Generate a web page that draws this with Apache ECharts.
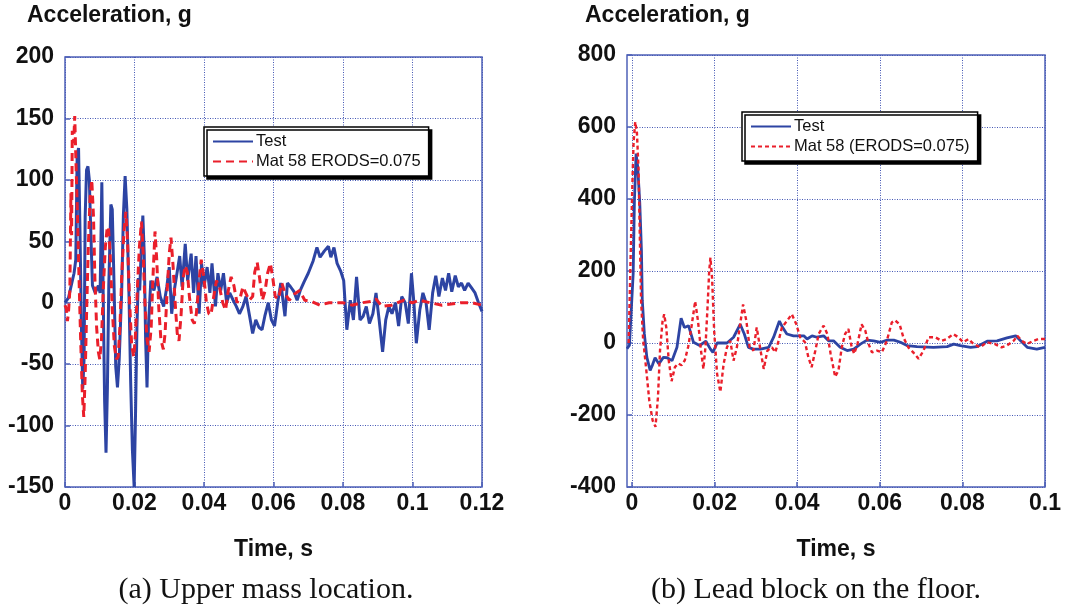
<!DOCTYPE html>
<html>
<head>
<meta charset="utf-8">
<script src="https://cdn.jsdelivr.net/npm/echarts/dist/echarts.min.js"></script>
<style>
html,body{margin:0;padding:0;background:#fff;}
#chart{width:1080px;height:606px;}
</style>
</head>
<body>
<div id="chart"></div>
<script>
// ---------- DATA ----------
// (a) Upper mass location
const aXTicks = [0, 0.02, 0.04, 0.06, 0.08, 0.1, 0.12];
const aYTicks = [-150, -100, -50, 0, 50, 100, 150, 200];
const aTestT = [0,0.0010,0.0018,0.0026,0.0031,0.0035,0.0039,0.0043,0.0047,0.0051,0.0055,0.0058,0.0062,0.0066,0.0070,0.0074,0.0079,0.0087,0.0096,0.0101,0.0106,0.0110,0.0114,0.0118,0.0122,0.0126,0.0132,0.0136,0.0141,0.0146,0.0151,0.0156,0.0163,0.0168,0.0173,0.0178,0.0184,0.0189,0.0194,0.0199,0.0203,0.0207,0.0211,0.0215,0.0219,0.0224,0.0228,0.0232,0.0236,0.0240,0.0247,0.0256,0.0265,0.0274,0.0284,0.0293,0.0300,0.0307,0.0316,0.0324,0.0330,0.0337,0.0346,0.0353,0.0363,0.0370,0.0377,0.0386,0.0393,0.0400,0.0409,0.0417,0.0423,0.0433,0.0440,0.0448,0.0456,0.0465,0.0474,0.0484,0.0493,0.0502,0.0512,0.0521,0.0530,0.0540,0.0549,0.0558,0.0567,0.0575,0.0585,0.0594,0.0603,0.0612,0.0621,0.0633,0.0640,0.0649,0.0659,0.0668,0.0677,0.0688,0.0700,0.0714,0.0725,0.0734,0.0746,0.0758,0.0765,0.0774,0.0783,0.0793,0.0802,0.0811,0.0821,0.0830,0.0839,0.0849,0.0858,0.0867,0.0876,0.0886,0.0895,0.0904,0.0914,0.0923,0.0932,0.0941,0.0951,0.0960,0.0969,0.0979,0.0988,0.0997,0.1004,0.1011,0.1021,0.1030,0.1039,0.1048,0.1058,0.1067,0.1076,0.1086,0.1095,0.1104,0.1113,0.1123,0.1132,0.1141,0.1150,0.1160,0.1170,0.1180,0.1190,0.1200];
const aTestG = [0,4,14,24,35,120,126,60,-15,-70,-45,70,108,111,100,60,14,8,14,8,98,5,-80,-122,-70,14,80,76,16,-52,-69,-46,8,71,103,76,8,-65,-120,-150,-90,-20,20,10,40,71,40,-30,-69,-20,18,10,21,5,-3,13,29,-9,13,27,38,13,48,18,40,8,38,-9,32,13,29,8,32,-3,24,10,24,0,8,2,-3,-9,-3,5,-9,-25,-14,-20,-22,-11,0,-14,-19,0,16,-11,16,13,9,2,10,17,24,34,45,37,42,46,37,45,32,26,18,-22,2,-14,21,-14,-11,-3,-17,-9,8,-14,-40,-14,-3,-9,0,-19,5,0,-17,24,0,-33,-6,8,0,-22,8,22,5,20,10,24,9,22,13,16,10,16,12,8,0,-7];
const aModelT = [0,0.0004,0.0007,0.0010,0.0014,0.0017,0.0019,0.0021,0.0025,0.0028,0.0032,0.0036,0.0040,0.0045,0.0050,0.0054,0.0058,0.0062,0.0067,0.0072,0.0077,0.0082,0.0086,0.0091,0.0096,0.0100,0.0105,0.0110,0.0116,0.0121,0.0125,0.0130,0.0136,0.0142,0.0148,0.0153,0.0158,0.0163,0.0169,0.0175,0.0180,0.0186,0.0192,0.0198,0.0203,0.0208,0.0214,0.0220,0.0225,0.0230,0.0236,0.0242,0.0248,0.0253,0.0259,0.0264,0.0270,0.0276,0.0283,0.0288,0.0294,0.0300,0.0305,0.0311,0.0317,0.0323,0.0328,0.0334,0.0340,0.0346,0.0352,0.0358,0.0366,0.0372,0.0378,0.0385,0.0392,0.0400,0.0407,0.0414,0.0420,0.0428,0.0436,0.0445,0.0454,0.0462,0.0470,0.0478,0.0486,0.0495,0.0505,0.0512,0.0520,0.0530,0.0540,0.0546,0.0553,0.0560,0.0568,0.0576,0.0583,0.0591,0.0598,0.0605,0.0614,0.0624,0.0633,0.0645,0.0660,0.0675,0.0690,0.0710,0.0733,0.0760,0.0800,0.0826,0.0855,0.0880,0.0895,0.0912,0.0940,0.0975,0.1000,0.1020,0.1050,0.1085,0.1140,0.1170,0.1200];
const aModelG = [-2,-5,-15,-8,10,89,55,140,130,152,110,70,24,-30,-75,-93,-60,-10,45,85,100,70,20,-20,-40,-46,-30,10,45,60,62,40,-5,-35,-46,-44,-20,20,55,74,50,0,-35,-44,-25,10,45,66,40,0,-30,-40,-20,20,58,35,-5,-30,-38,-25,10,40,53,30,0,-25,-31,-10,20,30,25,5,-14,-17,-9,15,35,20,0,-9,-10,5,18,12,0,-6,10,21,14,0,5,13,8,2,5,25,33,20,2,10,24,32,20,5,3,16,8,2,7,10,2,1,-2,0,0,-2,0,1,3,-3,-2,2,0,2,0,-2,0,0,-2];

// (b) Lead block on the floor
const bXTicks = [0, 0.02, 0.04, 0.06, 0.08, 0.1];
const bYTicks = [-400, -200, 0, 200, 400, 600, 800];
const bTestT = [-0.0012,-0.0006,-0.0003,0.0003,0.0006,0.0010,0.0014,0.0019,0.0023,0.0025,0.0030,0.0036,0.0044,0.0050,0.0056,0.0065,0.0076,0.0085,0.0097,0.0109,0.0119,0.0127,0.0137,0.0149,0.0164,0.0179,0.0190,0.0196,0.0206,0.0230,0.0246,0.0262,0.0272,0.0282,0.0294,0.0311,0.0331,0.0343,0.0357,0.0365,0.0375,0.0391,0.0416,0.0424,0.0436,0.0448,0.0464,0.0476,0.0488,0.0504,0.0521,0.0537,0.0553,0.0569,0.0585,0.0602,0.0618,0.0634,0.0650,0.0666,0.0690,0.0730,0.0763,0.0779,0.0795,0.0820,0.0836,0.0860,0.0884,0.0908,0.0929,0.0941,0.0957,0.0980,0.1000];
const bTestG = [-16,-6,63,193,396,526,489,387,257,119,26,-39,-76,-60,-41,-58,-40,-41,-49,-12,69,43,48,2,-7,5,-17,-26,0,0,16,52,25,-12,-17,-17,-12,16,61,43,25,20,20,11,20,16,20,6,6,-12,-21,-17,-3,8,6,2,8,8,2,-7,-10,-12,-10,-3,-7,-12,-10,5,6,14,20,6,-12,-17,-12];
const bModelT = [-0.0008,-0.0003,0.0001,0.0004,0.0008,0.0012,0.0016,0.0019,0.0022,0.0027,0.0034,0.0042,0.0050,0.0057,0.0063,0.0068,0.0074,0.0078,0.0083,0.0089,0.0096,0.0104,0.0112,0.0120,0.0128,0.0136,0.0144,0.0153,0.0160,0.0167,0.0173,0.0178,0.0183,0.0187,0.0190,0.0194,0.0199,0.0206,0.0214,0.0222,0.0230,0.0238,0.0246,0.0254,0.0262,0.0269,0.0277,0.0285,0.0294,0.0302,0.0310,0.0319,0.0328,0.0339,0.0347,0.0355,0.0363,0.0375,0.0387,0.0398,0.0407,0.0419,0.0427,0.0435,0.0444,0.0452,0.0464,0.0473,0.0481,0.0492,0.0500,0.0508,0.0516,0.0524,0.0532,0.0538,0.0546,0.0556,0.0565,0.0573,0.0581,0.0593,0.0605,0.0617,0.0629,0.0637,0.0648,0.0657,0.0669,0.0681,0.0694,0.0706,0.0718,0.0734,0.0750,0.0762,0.0778,0.0790,0.0802,0.0815,0.0827,0.0843,0.0859,0.0879,0.0895,0.0908,0.0924,0.0933,0.0944,0.0956,0.0972,0.0984,0.1000];
const bModelG = [0,250,440,560,614,585,480,300,120,10,-67,-160,-215,-233,-150,-20,60,80,44,-48,-106,-67,-57,-62,-48,-11,44,116,60,-20,-72,-10,100,200,237,180,34,-85,-136,-58,-12,6,-49,-12,52,107,61,-12,-21,43,-12,-72,-21,-12,-26,6,43,61,80,52,16,2,-39,-67,-21,25,48,25,-30,-94,-76,-12,25,39,-12,-30,-3,52,34,-3,-26,-21,-26,6,57,63,52,16,-12,-26,-44,-21,16,16,6,11,25,16,2,11,-3,-12,2,-3,-12,-7,6,20,6,-3,6,11,11];

const legendA = ['Test', 'Mat 58 ERODS=0.075'];
const legendB = ['Test ', 'Mat 58 (ERODS=0.075)'];
const yName = 'Acceleration, g';
const xName = 'Time, s';
const captions = ['(a) Upper mass location.', '(b) Lead block on the floor.'];

// ---------- BUILD ----------
const zip = (t, g) => t.map((v, i) => [v, g[i]]);
const BLUE = '#2d44a3';
const RED = '#ea1f2b';
const GRIDC = '#4457b4';
const FRAME = '#4f62b8';
const SANS = 'Liberation Sans, Arial, sans-serif';
const fmt = v => String(parseFloat(Number(v).toFixed(4)));
const tickFont = {fontFamily: SANS, fontWeight: 'bold', fontSize: 23, color: '#111'};

function xAxis(gi, min, max, ticks, useInterval) {
  const ax = {
    gridIndex: gi, type: 'value', min: min, max: max,
    name: xName, nameLocation: 'middle', nameGap: 51,
    nameTextStyle: {fontFamily: SANS, fontWeight: 'bold', fontSize: 23, color: '#111'},
    axisLine: {show: false, onZero: false},
    axisTick: {show: true, inside: true, length: 5, lineStyle: {color: FRAME, width: 1.5}},
    axisLabel: Object.assign({margin: 5, formatter: fmt, showMinLabel: true, showMaxLabel: true}, tickFont),
    splitLine: {show: true, lineStyle: {type: [1, 1.5], color: GRIDC, width: 1}}
  };
  if (useInterval) {
    ax.interval = ticks[1] - ticks[0];
  } else {
    ax.axisTick.customValues = ticks;
    ax.axisLabel.customValues = ticks;
    ax.splitLine.customValues = ticks;
  }
  return ax;
}
function yAxis(gi, ticks) {
  return {
    gridIndex: gi, type: 'value', min: ticks[0], max: ticks[ticks.length - 1],
    interval: ticks[1] - ticks[0],
    axisLine: {show: false, onZero: false},
    axisTick: {show: true, inside: true, length: 5, lineStyle: {color: FRAME, width: 1.5}},
    axisLabel: Object.assign({margin: 11, formatter: v => String(v)}, tickFont),
    splitLine: {show: true, lineStyle: {type: [1, 1.5], color: GRIDC, width: 1}}
  };
}
function legend(names, left, top) {
  return {
    data: names, left: left, top: top, orient: 'vertical',
    backgroundColor: '#fff', borderColor: '#000', borderWidth: 1.5,
    shadowColor: '#000', shadowBlur: 0, shadowOffsetX: 3, shadowOffsetY: 3,
    padding: [6, 8, 6, 8], itemWidth: 40, itemHeight: 12, itemGap: 3,
    selectedMode: false,
    itemStyle: {opacity: 0},
    textStyle: {fontFamily: SANS, fontSize: 16.5, color: '#111', padding: [0, 0, 0, -2]}
  };
}
const titleFont = {fontFamily: SANS, fontWeight: 'bold', fontSize: 23, color: '#111'};
const capFont = {fontFamily: 'Liberation Serif, Times New Roman, serif', fontWeight: 'normal', fontSize: 30, color: '#111'};

const option = {
  animation: false,
  backgroundColor: '#fff',
  title: [
    {text: yName, left: 27, top: 4, textStyle: titleFont, padding: 0},
    {text: yName, left: 585, top: 4, textStyle: titleFont, padding: 0},
    {text: captions[0], left: 266, top: 575, textAlign: 'center', textStyle: capFont, padding: 0},
    {text: captions[1], left: 816, top: 575, textAlign: 'center', textStyle: capFont, padding: 0}
  ],
  grid: [
    {left: 65, top: 57, width: 417, height: 430, show: true, borderColor: FRAME, borderWidth: 1.5, backgroundColor: 'transparent'},
    {left: 627, top: 55, width: 418, height: 432, show: true, borderColor: FRAME, borderWidth: 1.5, backgroundColor: 'transparent'}
  ],
  xAxis: [
    xAxis(0, aXTicks[0], aXTicks[aXTicks.length - 1], aXTicks, true),
    xAxis(1, -0.0012, bXTicks[bXTicks.length - 1], bXTicks, false)
  ],
  yAxis: [yAxis(0, aYTicks), yAxis(1, bYTicks)],
  legend: [legend(legendA, 204, 127), legend(legendB, 742, 112)],
  series: [
    {name: legendA[0], type: 'line', xAxisIndex: 0, yAxisIndex: 0, data: zip(aTestT, aTestG), symbol: 'none', lineStyle: {color: BLUE, width: 3}, itemStyle: {color: BLUE}},
    {name: legendA[1], type: 'line', xAxisIndex: 0, yAxisIndex: 0, data: zip(aModelT, aModelG), symbol: 'none', lineStyle: {color: RED, width: 3, type: [8, 5]}, itemStyle: {color: RED}},
    {name: legendB[0], type: 'line', xAxisIndex: 1, yAxisIndex: 1, data: zip(bTestT, bTestG), symbol: 'none', lineStyle: {color: BLUE, width: 2.8}, itemStyle: {color: BLUE}},
    {name: legendB[1], type: 'line', xAxisIndex: 1, yAxisIndex: 1, data: zip(bModelT, bModelG), symbol: 'none', lineStyle: {color: RED, width: 2.4, type: [4, 3]}, itemStyle: {color: RED}}
  ]
};
const chart = echarts.init(document.getElementById('chart'), null, {renderer: 'canvas'});
chart.setOption(option);
</script>
</body>
</html>
